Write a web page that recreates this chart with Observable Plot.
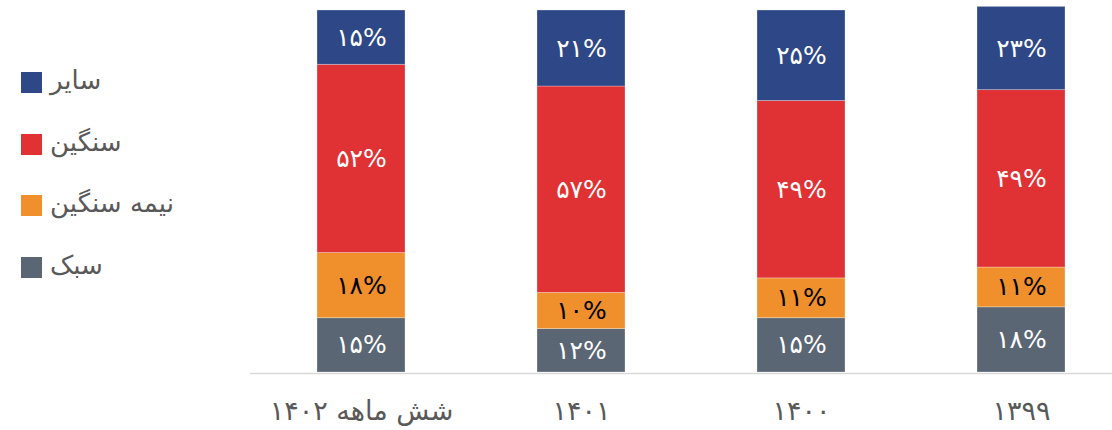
<!DOCTYPE html>
<html>
<head>
<meta charset="utf-8">
<script src="https://cdn.jsdelivr.net/npm/d3@7"></script>
<script src="https://cdn.jsdelivr.net/npm/@observablehq/plot@0.6"></script>
<style>
  html, body { margin: 0; padding: 0; background: #fff; }
  #wrap { position: relative; width: 1112px; height: 430px; font-family: "DejaVu Sans", sans-serif; }
  #legend { position: absolute; left: 0; top: 0; }
  .item { position: absolute; left: 21px; height: 22px; display: flex; align-items: center; white-space: nowrap; }
  .sw { width: 21px; height: 21px; margin-right: 8px; }
  .lab { direction: rtl; font-size: 26px; color: #595959; line-height: 22px; position: relative; top: -2px; }
</style>
</head>
<body>
<div id="wrap"><div id="legend"></div></div>
<script>
// Categories (left to right)
const categories = ["شش ماهه ۱۴۰۲", "۱۴۰۱", "۱۴۰۰", "۱۳۹۹"];
// Series (bottom to top of each stack)
const seriesNames = ["سبک", "نیمه سنگین", "سنگین", "سایر"];
const seriesColors = ["#5a6674", "#f0902c", "#e03134", "#2e4887"];
// Values in percent, per series, aligned to categories
const sabok      = [15, 12, 15, 18];
const nimeSangin = [18, 10, 11, 11];
const sangin     = [52, 57, 49, 49];
const sayer      = [15, 21, 25, 23];
const seriesValues = [sabok, nimeSangin, sangin, sayer];
// series whose labels are drawn in black
const darkLabelSeries = "نیمه سنگین";

const faDigits = "۰۱۲۳۴۵۶۷۸۹";
const toFa = n => String(n).replace(/\d/g, d => faDigits[d]) + "%";

const data = [];
seriesNames.forEach((s, si) => {
  categories.forEach((c, ci) => {
    data.push({cat: c, type: s, value: seriesValues[si][ci]});
  });
});

const font = "DejaVu Sans, sans-serif";
const labelOpts = {x: "cat", y: "value", z: "type", order: seriesNames, text: d => toFa(d.value), fontSize: 25};

const chart = Plot.plot({
  width: 1112,
  height: 430,
  marginTop: 10,
  marginBottom: 58,
  marginLeft: 250,
  marginRight: 0,
  style: {fontFamily: font, background: "transparent"},
  x: {domain: categories, range: [251, 1131], paddingInner: 0.6, paddingOuter: 0.3, label: null},
  y: {domain: [0, 100], axis: null},
  color: {domain: seriesNames, range: seriesColors},
  opacity: {domain: [0, 1], range: [0, 1]},
  marks: [
    Plot.ruleY([0], {stroke: "#d9d9d9", strokeWidth: 1.5, dy: 1}),
    Plot.barY(data, Plot.stackY({x: "cat", y: "value", fill: "type", order: seriesNames, stroke: "#ffffff", strokeOpacity: 0.35, strokeWidth: 0.8})),
    Plot.text(data, Plot.stackY({...labelOpts, fill: "white", fillOpacity: d => d.type === darkLabelSeries ? 0 : 1})),
    Plot.text(data, Plot.stackY({...labelOpts, fill: "black", fillOpacity: d => d.type === darkLabelSeries ? 1 : 0})),
    Plot.axisX({tickSize: 0, tickPadding: 28, fontSize: 27, color: "#595959", label: null})
  ]
});
document.getElementById("wrap").prepend(chart);

// Legend (top to bottom: reverse stack order)
const legend = document.getElementById("legend");
const legendTops = [71, 133, 194, 256];
seriesNames.slice().reverse().forEach((s, i) => {
  const idx = seriesNames.indexOf(s);
  const item = document.createElement("div");
  item.className = "item";
  item.style.top = legendTops[i] + "px";
  const sw = document.createElement("div");
  sw.className = "sw";
  sw.style.background = seriesColors[idx];
  const lab = document.createElement("span");
  lab.className = "lab";
  lab.textContent = s;
  item.append(sw, lab);
  legend.append(item);
});
</script>
</body>
</html>
